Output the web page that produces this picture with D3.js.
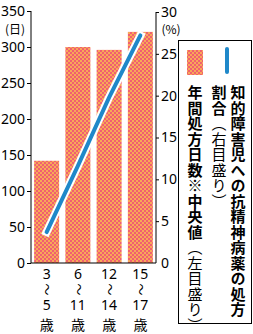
<!DOCTYPE html>
<html>
<head>
<meta charset="utf-8">
<script src="https://cdn.jsdelivr.net/npm/d3@7"></script>
<style>
  body { margin: 0; background: #fff; }
  svg text { font-family: "Noto Sans CJK JP", "Noto Sans", sans-serif; fill: #000; }
</style>
</head>
<body>
<svg width="253" height="334"></svg>
<script>
// age groups, drawn as stacked rows under each bar
var ageFrom = ["3", "6", "12", "15"];
var ageTo = ["5", "11", "14", "17"];
// annual prescription days (median), left axis
var days = [142, 300, 296, 321];
// prescription ratio (%), right axis
var ratio = [3.7, 11.6, 19.8, 27.2];
var leftTicks = [0, 50, 100, 150, 200, 250, 300, 350];
var rightTicks = [0, 5, 10, 15, 20, 25, 30];

var svg = d3.select("svg");

var x = d3.scaleBand()
    .domain(d3.range(ageFrom.length))
    .range([31, 156])
    .paddingInner(0.2)
    .paddingOuter(0.1);

var yL = d3.scaleLinear().domain([0, 350]).range([263, 11]);
var yR = d3.scaleLinear().domain([0, 30]).range([263, 12]);

// checkered fill for the bars
var defs = svg.append("defs");
var pat = defs.append("pattern")
    .attr("id", "chk")
    .attr("patternUnits", "userSpaceOnUse")
    .attr("width", 4).attr("height", 4);
pat.append("rect").attr("width", 4).attr("height", 4).attr("fill", "#f06070");
pat.append("rect").attr("width", 2).attr("height", 2).attr("fill", "#f8a858");
pat.append("rect").attr("x", 2).attr("y", 2).attr("width", 2).attr("height", 2).attr("fill", "#f8a858");

svg.append("g")
    .selectAll("rect")
    .data(days)
    .enter().append("rect")
    .attr("x", function(d, i) { return x(i); })
    .attr("y", function(d) { return yL(d); })
    .attr("width", x.bandwidth())
    .attr("height", function(d) { return yL(0) - yL(d); })
    .attr("fill", "url(#chk)");

// axes
var axL = svg.append("g")
    .attr("transform", "translate(31,0)")
    .call(d3.axisLeft(yL).tickValues(leftTicks).tickSize(4).tickPadding(2));
var axR = svg.append("g")
    .attr("transform", "translate(156,0)")
    .call(d3.axisRight(yR).tickValues(rightTicks).tickSize(3).tickPadding(2));
[axL, axR].forEach(function(a) {
    a.select(".domain").remove();
    a.selectAll("text").style("font-family", "'Noto Sans'").style("font-size", "14px");
});
axR.selectAll(".tick").filter(function(d) { return d === 0; }).select("line").remove();

svg.append("path")
    .attr("d", "M31," + yL(350) + "V" + yL(0) + "H156V" + yR(30))
    .attr("fill", "none")
    .attr("stroke", "#000");

svg.append("text").attr("x", 15).attr("y", 34).attr("text-anchor", "middle")
    .style("font-size", "12px").text("(日)");
svg.append("text").attr("x", 171).attr("y", 34).attr("text-anchor", "middle")
    .style("font-size", "12px").text("(%)");

// ratio line with white halo
var line = d3.line()
    .x(function(d, i) { return x(i) + x.bandwidth() / 2; })
    .y(function(d) { return yR(d); });
svg.append("path").datum(ratio).attr("d", line)
    .attr("fill", "none").attr("stroke", "#fff").attr("stroke-width", 8).attr("stroke-linecap", "square");
svg.append("path").datum(ratio).attr("d", line)
    .attr("fill", "none").attr("stroke", "#1f88c9").attr("stroke-width", 4).attr("stroke-linecap", "round");

// x labels
var xl = svg.append("g").selectAll("g")
    .data(ageFrom)
    .enter().append("g")
    .attr("transform", function(d, i) { return "translate(" + (x(i) + x.bandwidth() / 2) + ",0)"; });
xl.append("text").attr("y", 279).attr("text-anchor", "middle")
    .style("font-family", "'Noto Sans'").style("font-size", "14px").text(function(d) { return d; });
xl.append("text").attr("transform", "translate(0,289.5) rotate(90)")
    .attr("text-anchor", "middle").attr("dy", "0.35em")
    .style("font-size", "12px").text("〜");
xl.append("text").attr("y", 310).attr("text-anchor", "middle")
    .style("font-family", "'Noto Sans'").style("font-size", "14px").text(function(d, i) { return ageTo[i]; });
xl.append("text").attr("y", 330).attr("text-anchor", "middle")
    .style("font-size", "14px").text("歳");

// legend
var lg = svg.append("g");
lg.append("rect").attr("x", 178.5).attr("y", 40.5).attr("width", 73).attr("height", 283)
    .attr("fill", "#fff").attr("stroke", "#000");
lg.append("rect").attr("x", 187).attr("y", 50).attr("width", 16).attr("height", 25).attr("fill", "url(#chk)");
lg.append("line").attr("x1", 227).attr("x2", 227).attr("y1", 49).attr("y2", 72)
    .attr("stroke", "#1f88c9").attr("stroke-width", 4).attr("stroke-linecap", "round");

function vtext(cx, y0, parts) {
    var t = lg.append("text")
        .attr("x", cx).attr("y", y0)
        .style("writing-mode", "vertical-rl")
        .style("font-size", "15px")
        .style("letter-spacing", "0.5px");
    parts.forEach(function(p) {
        t.append("tspan").style("font-weight", p[1] ? "bold" : "normal").text(p[0]);
    });
}
vtext(238, 85, [["知的障害児への抗精神病薬の処方", true]]);
vtext(219, 85, [["割合", true], ["（右目盛り）", false]]);
vtext(195, 85, [["年間処方日数※中央値", true], ["（左目盛り）", false]]);
</script>
</body>
</html>
